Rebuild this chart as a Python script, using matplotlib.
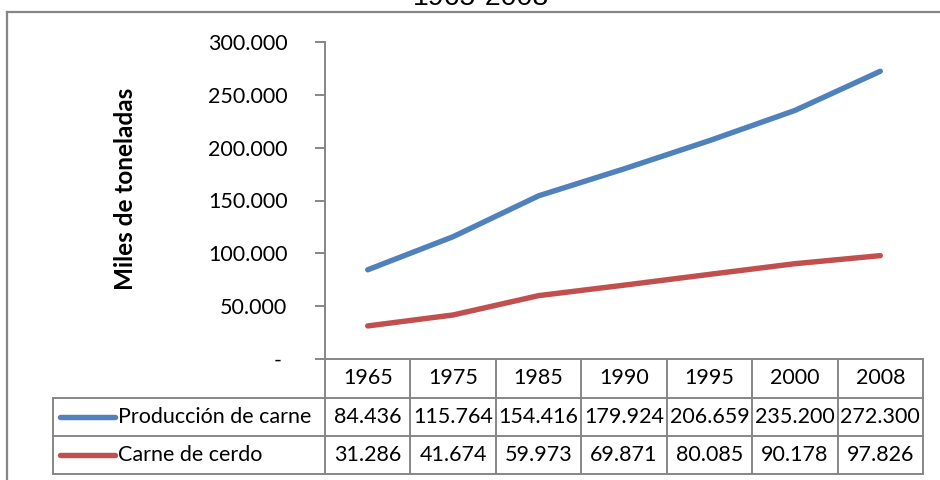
import matplotlib
matplotlib.use("Agg")
import matplotlib.pyplot as plt
from matplotlib.lines import Line2D

years = ["1965", "1975", "1985", "1990", "1995", "2000", "2008"]
produccion_carne = [84436, 115764, 154416, 179924, 206659, 235200, 272300]
carne_cerdo = [31286, 41674, 59973, 69871, 80085, 90178, 97826]
series_names = ["Producción de carne", "Carne de cerdo"]
series_colors = ["#4F81BD", "#C0504D"]
y_ticks = [0, 50000, 100000, 150000, 200000, 250000, 300000]

W, H = 940, 480
DPI = 100
GRID = "#868686"
FONT = ["Lato", "DejaVu Sans"]
FS = 15.5


def fmt(v):
    return "-" if v == 0 else f"{v:,.0f}".replace(",", ".")


def fx(px):
    return px / W


def fy(py):
    return 1 - py / H


fig = plt.figure(figsize=(W / DPI, H / DPI), dpi=DPI)

# plot area in pixel coordinates
left, right, top, bottom = 325, 923, 42, 359
ax = fig.add_axes([fx(left), fy(bottom), fx(right - left), (bottom - top) / H])
n = len(years)
xs = [i + 0.5 for i in range(n)]
for vals, col in zip([produccion_carne, carne_cerdo], series_colors):
    ax.plot(xs, vals, color=col, lw=3.9, solid_capstyle="round",
            solid_joinstyle="round")
ax.set_xlim(0, n)
ax.set_ylim(0, 300000)
ax.set_yticks(y_ticks)
ax.set_yticklabels([fmt(v) + (" " if v == 0 else "") for v in y_ticks],
                   fontsize=FS, family=FONT)
ax.set_xticks([])
for s in ["top", "right"]:
    ax.spines[s].set_visible(False)
for s in ["left", "bottom"]:
    ax.spines[s].set_color(GRID)
    ax.spines[s].set_linewidth(1.4)
ax.tick_params(axis="y", length=7, width=1.4, color=GRID, pad=20)
ax.set_ylabel("Miles de toneladas", fontsize=17.5, fontweight="bold",
              family=FONT)
ax.yaxis.set_label_coords((137 - left) / (right - left), (bottom - 189) / (bottom - top))

# data table below the plot
col_w = (right - left) / n
row_edges = [359, 398, 436, 474]
legend_left = 53


def hline(x0, x1, y):
    fig.add_artist(Line2D([fx(x0), fx(x1)], [fy(y), fy(y)], color=GRID, lw=1.4))


def vline(x, y0, y1):
    fig.add_artist(Line2D([fx(x), fx(x)], [fy(y0), fy(y1)], color=GRID, lw=1.4))


for i in range(n + 1):
    vline(left + i * col_w, row_edges[0], row_edges[3])
vline(legend_left, row_edges[1], row_edges[3])
for y in row_edges[1:]:
    hline(legend_left, right, y)

for i, yr in enumerate(years):
    fig.text(fx(left + (i + 0.5) * col_w), fy((row_edges[0] + row_edges[1]) / 2),
             yr, ha="center", va="center", fontsize=FS, family=FONT)

for r, (name, col, vals) in enumerate(zip(series_names, series_colors,
                                           [produccion_carne, carne_cerdo])):
    yc = (row_edges[r + 1] + row_edges[r + 2]) / 2
    fig.add_artist(Line2D([fx(60), fx(115)], [fy(yc), fy(yc)], color=col,
                          lw=3.9, solid_capstyle="round"))
    fig.text(fx(118), fy(yc), name, ha="left", va="center", fontsize=FS,
             family=FONT)
    for i, v in enumerate(vals):
        fig.text(fx(left + (i + 0.5) * col_w), fy(yc), fmt(v), ha="center",
                 va="center", fontsize=FS, family=FONT)

# chart frame and title
fig.add_artist(Line2D([fx(7.5), 1], [fy(11.5), fy(11.5)], color=GRID, lw=1.6))
fig.add_artist(Line2D([fx(7.5), fx(7.5)], [fy(11.5), 0], color=GRID, lw=1.6))
fig.text(fx(481), fy(5), "1965-2008", ha="center", va="baseline",
         fontsize=20.5, family=["Liberation Sans", "DejaVu Sans"])

fig.savefig("out.png", dpi=DPI)
